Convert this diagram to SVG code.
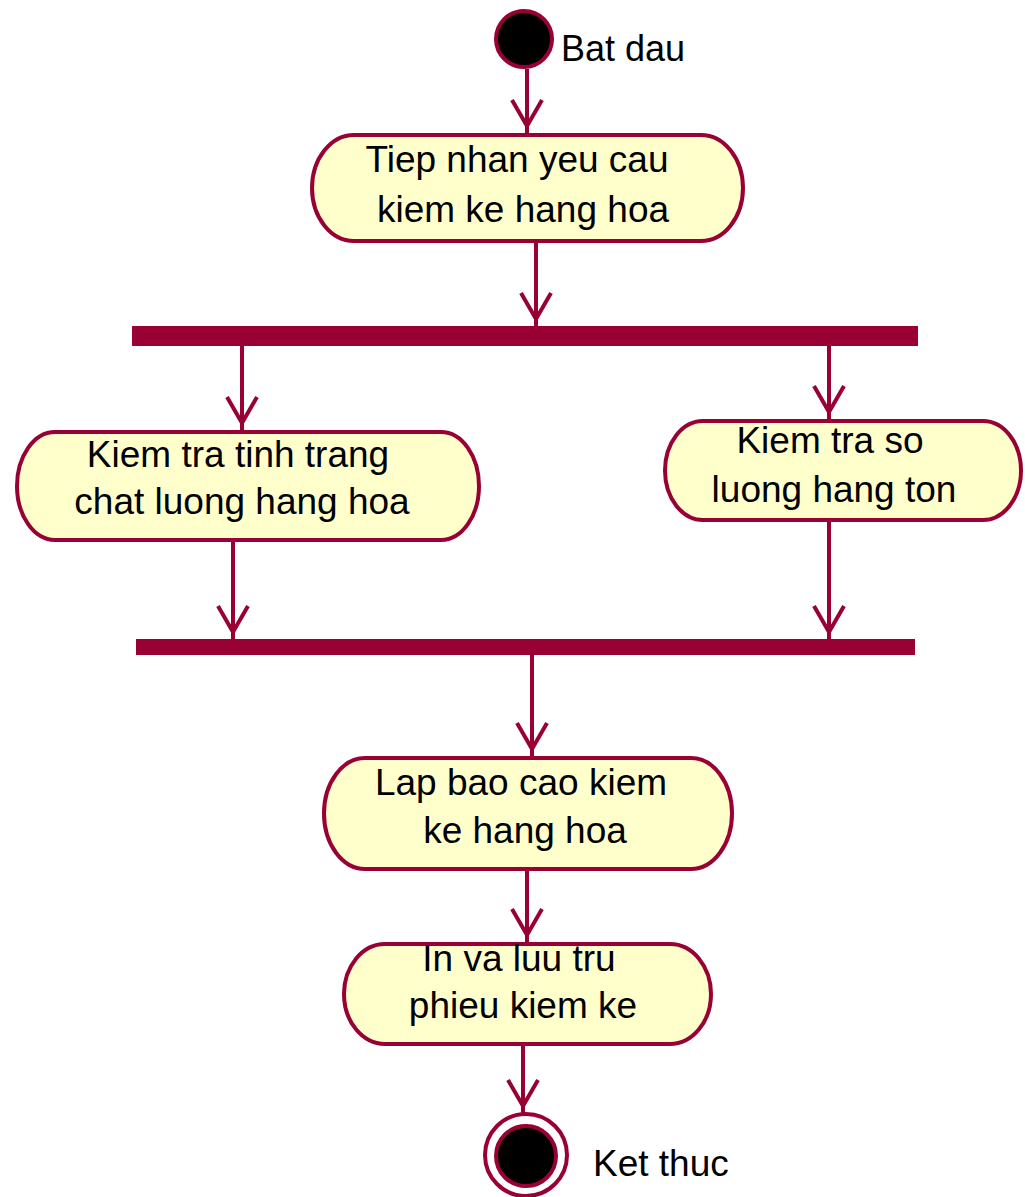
<svg xmlns="http://www.w3.org/2000/svg" width="1025" height="1197" viewBox="0 0 1025 1197">
<style>
.node{fill:#FFFFCC;stroke:#990033;stroke-width:4}
.bar{fill:#990033}
.edge{stroke:#990033;stroke-width:4;fill:none;marker-end:url(#arr)}
.txt{font-family:"Liberation Sans",Arial,sans-serif;font-size:37px;fill:#000;text-anchor:middle}
.lbl{font-family:"Liberation Sans",Arial,sans-serif;font-size:37px;fill:#000}
.dot{fill:#000;stroke:#990033;stroke-width:4}
</style>
<defs>
<marker id="arr" markerUnits="userSpaceOnUse" orient="auto" refX="7" refY="0" markerWidth="40" markerHeight="40" viewBox="-30 -20 40 40" overflow="visible">
<path d="M-26,-15 L0,0 L-26,15" fill="none" stroke="#990033" stroke-width="4"/>
</marker>
</defs>
<rect width="1025" height="1197" fill="#fff"/>
<g id="connectors">
<line class="edge" x1="527" y1="69" x2="527" y2="133"/>
<line class="edge" x1="536" y1="243" x2="536" y2="326"/>
<line class="edge" x1="242" y1="346" x2="242" y2="430"/>
<line class="edge" x1="829" y1="346" x2="829" y2="419"/>
<line class="edge" x1="233" y1="542" x2="233" y2="639"/>
<line class="edge" x1="829" y1="522" x2="829" y2="639"/>
<line class="edge" x1="532" y1="655" x2="532" y2="756"/>
<line class="edge" x1="527" y1="871" x2="527" y2="942"/>
<line class="edge" x1="523" y1="1046" x2="523" y2="1113"/>
</g>
<g id="start">
<circle class="dot" cx="524" cy="39" r="28"/>
<text class="lbl" x="561" y="61" style="font-size:36px">Bat dau</text>
</g>
<g id="node1">
<path class="node" d="M354,135 H701 A42,53 0 0 1 701,241 H354 A42,53 0 0 1 354,135 Z"/>
<text class="txt" x="517" y="172">Tiep nhan yeu cau</text>
<text class="txt" x="523" y="222">kiem ke hang hoa</text>
</g>
<g id="fork">
<rect class="bar" x="132" y="326" width="786" height="20"/>
</g>
<g id="node2">
<path class="node" d="M55,432 H441 A38,54 0 0 1 441,540 H55 A38,54 0 0 1 55,432 Z"/>
<text class="txt" x="238" y="467">Kiem tra tinh trang</text>
<text class="txt" x="242" y="514">chat luong hang hoa</text>
</g>
<g id="node3">
<path class="node" d="M703,421 H983 A38,49.5 0 0 1 983,520 H703 A38,49.5 0 0 1 703,421 Z"/>
<text class="txt" x="830" y="453">Kiem tra so</text>
<text class="txt" x="834" y="502">luong hang ton</text>
</g>
<g id="join">
<rect class="bar" x="136" y="639" width="779" height="16"/>
</g>
<g id="node4">
<path class="node" d="M365,758 H691 A41,55.5 0 0 1 691,869 H365 A41,55.5 0 0 1 365,758 Z"/>
<text class="txt" x="521" y="795">Lap bao cao kiem</text>
<text class="txt" x="525" y="843">ke hang hoa</text>
</g>
<g id="node5">
<path class="node" d="M385,944 H670 A41,50 0 0 1 670,1044 H385 A41,50 0 0 1 385,944 Z"/>
<text class="txt" x="519" y="971">In va luu tru</text>
<text class="txt" x="523" y="1018">phieu kiem ke</text>
</g>
<g id="end">
<circle cx="526" cy="1155" r="41" fill="none" stroke="#990033" stroke-width="4"/>
<circle class="dot" cx="526" cy="1156" r="30"/>
<text class="lbl" x="593" y="1176">Ket thuc</text>
</g>
</svg>
